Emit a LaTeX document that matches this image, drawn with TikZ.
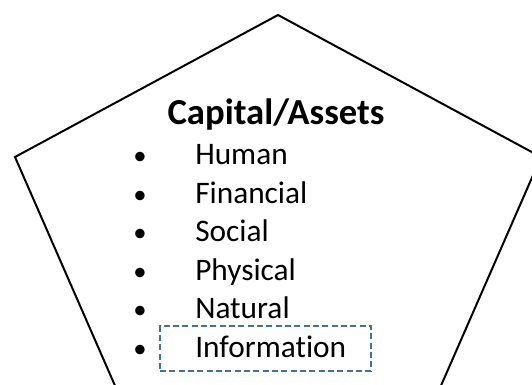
\documentclass[tikz,border=0pt]{standalone}
\usepackage{fontspec}
\setmainfont[Ligatures=NoCommon]{Carlito}
\definecolor{boxblue}{RGB}{65,113,156}
\tikzset{
  itemtext/.style={anchor=base west, inner sep=0pt, font=\fontsize{23.5pt}{28pt}\selectfont},
  bullettext/.style={anchor=base, inner sep=0pt, font=\fontsize{20pt}{24pt}\selectfont},
  titletext/.style={anchor=base, inner sep=0pt, font=\fontsize{27.5pt}{32pt}\selectfont\bfseries},
  pentaline/.style={draw=black, line width=1.5pt, line join=miter},
  dashbox/.style={draw=boxblue, line width=1.1pt, dash pattern=on 4.5pt off 2.5pt}
}
\begin{document}
\begin{tikzpicture}[x=0.75pt,y=-0.75pt]
\useasboundingbox (0,0) rectangle (532,385);
\begin{scope}
\clip (0,0) rectangle (532,385);
\coordinate (top) at (278,15);
\coordinate (lv) at (15,157);
\coordinate (rv) at (541,157);
\coordinate (bl) at (165,500);
\coordinate (br) at (391,500);
\draw[pentaline] (top) -- (rv) -- (br) -- (bl) -- (lv) -- cycle;
\end{scope}
\node[titletext] (title) at (276,124) {Capital/Assets};
\node[itemtext] (i1) at (195,164) {Human};
\node[itemtext] (i2) at (195,203) {Financial};
\node[itemtext] (i3) at (195,241) {Social};
\node[itemtext] (i4) at (195,280) {Physical};
\node[itemtext] (i5) at (195,318) {Natural};
\node[itemtext] (i6) at (195,357) {Information};
\foreach \y/\n in {164/1,203/2,241/3,280/4,318/5,357/6}{
  \node[bullettext] (b\n) at (140,\y) {•};
}
\node[dashbox, minimum width=211*0.75pt, minimum height=45*0.75pt, inner sep=0pt] (box) at (265.5,348.5) {};
\end{tikzpicture}
\end{document}
